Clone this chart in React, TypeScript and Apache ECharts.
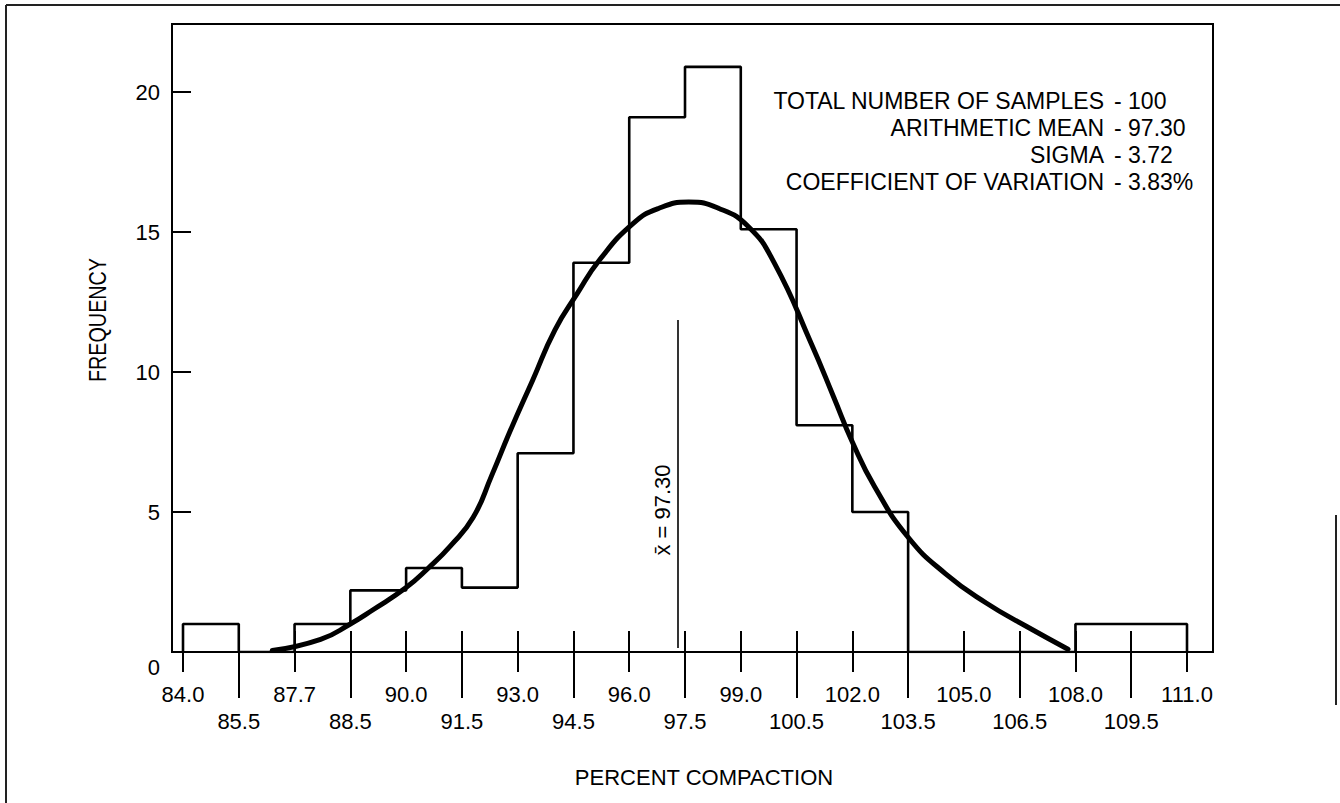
import { useEffect, useRef } from 'react';
import * as echarts from 'echarts';

// Histogram bins of percent compaction (class width 1.5) and their frequencies
const BIN_EDGES = [84.0, 85.5, 87.0, 88.5, 90.0, 91.5, 93.0, 94.5, 96.0, 97.5, 99.0, 100.5, 102.0, 103.5, 105.0, 106.5, 108.0, 109.5, 111.0];
const FREQUENCIES = [1.0, 0, 1.0, 2.2, 3.0, 2.3, 7.1, 13.9, 19.1, 20.9, 15.1, 8.1, 5.0, 0, 0, 0, 1.0, 1.0];

// Tick label rows on the x axis
const UPPER_TICKS = [84, 87, 90, 93, 96, 99, 102, 105, 108, 111];
const UPPER_LABELS = ['84.0', '87.7', '90.0', '93.0', '96.0', '99.0', '102.0', '105.0', '108.0', '111.0'];
const LOWER_TICKS = [85.5, 88.5, 91.5, 94.5, 97.5, 100.5, 103.5, 106.5, 109.5];
const LOWER_LABELS = ['85.5', '88.5', '91.5', '94.5', '97.5', '100.5', '103.5', '106.5', '109.5'];
const Y_TICKS = [0, 5, 10, 15, 20];

// Fitted normal frequency curve
const CURVE_X = [86.4, 87.7, 88.5, 89.1, 90.0, 90.6, 91.2, 91.8, 92.3, 92.8, 93.4, 94.0, 94.6, 95.2, 96.1, 96.8, 97.6, 98.4, 99.2, 99.9, 100.9, 101.5, 102.0, 102.6, 103.5, 104.5, 105.6, 106.7, 107.8];
const CURVE_Y = [0.05, 0.45, 1.0, 1.5, 2.3, 3.0, 3.8, 4.8, 6.3, 7.9, 9.7, 11.5, 12.8, 14.0, 15.3, 15.85, 16.07, 15.85, 15.2, 13.9, 11.0, 9.1, 7.5, 5.9, 4.1, 2.8, 1.75, 0.9, 0.1];

// Arithmetic mean marker
const MEAN = 97.3;
const MEAN_LINE_SPAN = [0.14, 11.86];
const MEAN_LABEL = 'x\u0304 = 97.30';

// Summary statistics
const STAT_NAMES = ['TOTAL NUMBER OF SAMPLES', 'ARITHMETIC MEAN', 'SIGMA', 'COEFFICIENT OF VARIATION'];
const STAT_VALUES = ['100', '97.30', '3.72', '3.83%'];

const FONT = "'Liberation Sans', Arial, Helvetica, sans-serif";
const INK = '#000';

function staticGraphics(): any[] {
  const els: any[] = [
    { type: 'line', silent: true, shape: { x1: 6, y1: 5, x2: 6, y2: 803 }, style: { stroke: '#222', lineWidth: 2 } },
    { type: 'line', silent: true, shape: { x1: 6, y1: 5, x2: 1340, y2: 5 }, style: { stroke: '#222', lineWidth: 2 } },
    { type: 'line', silent: true, shape: { x1: 1336, y1: 515, x2: 1336, y2: 705 }, style: { stroke: '#222', lineWidth: 2 } },
    {
      type: 'text', x: 98, y: 320, rotation: Math.PI / 2, scaleX: 0.86,
      style: { text: 'FREQUENCY', font: `23px ${FONT}`, fill: INK, align: 'center', verticalAlign: 'middle' },
    },
    {
      type: 'text', x: 704, y: 777,
      style: { text: 'PERCENT COMPACTION', font: `22px ${FONT}`, fill: INK, align: 'center', verticalAlign: 'middle' },
    },
  ];
  STAT_NAMES.forEach((name, i) => {
    const y = 101 + i * 27;
    els.push({ type: 'text', x: 1104, y, style: { text: name, font: `23px ${FONT}`, fill: INK, align: 'right', verticalAlign: 'middle' } });
    els.push({ type: 'text', x: 1114, y, style: { text: '- ' + STAT_VALUES[i], font: `23px ${FONT}`, fill: INK, align: 'left', verticalAlign: 'middle' } });
  });
  return els;
}

export default function App() {
  const ref = useRef<HTMLDivElement>(null);

  useEffect(() => {
    if (!ref.current) return;
    const chart = echarts.init(ref.current, null, { renderer: 'svg' });

    // Stair-step outline of the histogram
    const stepData: number[][] = [[BIN_EDGES[0], 0]];
    FREQUENCIES.forEach((f, i) => stepData.push([BIN_EDGES[i], f]));
    stepData.push([BIN_EDGES[BIN_EDGES.length - 1], 0]);

    const curveData = CURVE_X.map((x, i) => [x, CURVE_Y[i]]);

    const xMin = 83.704;
    const xMax = 111.699;
    const labelStyle = { fontFamily: FONT, fontSize: 22, color: INK };

    const option: any = {
      animation: false,
      backgroundColor: '#fff',
      grid: {
        left: 172, top: 24, width: 1041, height: 628,
        show: true, borderColor: INK, borderWidth: 2, backgroundColor: 'transparent',
      },
      xAxis: [
        {
          type: 'value', min: xMin, max: xMax, position: 'bottom',
          axisLine: { show: true, onZero: false, lineStyle: { color: INK, width: 2 } },
          axisTick: { show: true, inside: true, length: 21, customValues: BIN_EDGES, lineStyle: { color: INK, width: 2 } },
          axisLabel: {
            ...labelStyle, margin: 31, customValues: UPPER_TICKS,
            formatter: (v: number) => UPPER_LABELS[UPPER_TICKS.indexOf(v)] ?? '',
          },
          splitLine: { show: false },
        },
        {
          type: 'value', min: xMin, max: xMax, position: 'bottom',
          axisLine: { show: false },
          axisTick: { show: true, inside: false, length: 20, customValues: UPPER_TICKS, lineStyle: { color: INK, width: 2 } },
          axisLabel: {
            ...labelStyle, margin: 58, customValues: LOWER_TICKS,
            formatter: (v: number) => LOWER_LABELS[LOWER_TICKS.indexOf(v)] ?? '',
          },
          splitLine: { show: false },
        },
        {
          type: 'value', min: xMin, max: xMax, position: 'bottom',
          axisLine: { show: false },
          axisTick: { show: true, inside: false, length: 46, customValues: LOWER_TICKS, lineStyle: { color: INK, width: 2 } },
          axisLabel: { show: false },
          splitLine: { show: false },
        },
      ],
      yAxis: {
        type: 'value', min: 0, max: 22.43,
        axisLine: { show: true, onZero: false, lineStyle: { color: INK, width: 2 } },
        axisTick: { show: true, inside: true, length: 19, customValues: Y_TICKS, lineStyle: { color: INK, width: 2 } },
        axisLabel: {
          ...labelStyle, margin: 12, customValues: Y_TICKS,
          formatter: (v: number) => (v === 0 ? '{z|0}' : String(v)),
          rich: { z: { fontFamily: FONT, fontSize: 22, color: INK, padding: [30, 0, 0, 0] } },
        },
        splitLine: { show: false },
      },
      series: [
        {
          name: 'Frequency',
          type: 'line',
          step: 'end',
          data: stepData,
          symbol: 'none',
          lineStyle: { color: INK, width: 2.6 },
          z: 3,
          markLine: {
            silent: true,
            symbol: ['none', 'none'],
            label: { show: false },
            lineStyle: { color: INK, width: 1.6, type: 'solid' },
            data: [[{ coord: [MEAN, MEAN_LINE_SPAN[0]] }, { coord: [MEAN, MEAN_LINE_SPAN[1]] }]],
          },
        },
        {
          name: 'Normal curve',
          type: 'line',
          data: curveData,
          smooth: 0.5,
          symbol: 'none',
          lineStyle: { color: INK, width: 5, cap: 'round', join: 'round' },
          z: 4,
        },
      ],
      graphic: staticGraphics(),
    };

    chart.setOption(option);

    // Mean label set beside the mean line, placed through the axis scales
    const p = chart.convertToPixel({ xAxisIndex: 0, yAxisIndex: 0 }, [MEAN, 5.07]) as number[];
    chart.setOption({
      graphic: [
        ...staticGraphics(),
        {
          type: 'text', x: p[0] - 15, y: p[1], rotation: Math.PI / 2,
          style: { text: MEAN_LABEL, font: `22px ${FONT}`, fill: INK, align: 'center', verticalAlign: 'middle' },
        },
      ],
    });

    return () => chart.dispose();
  }, []);

  return (
    <div
      ref={ref}
      style={{ position: 'fixed', left: 0, top: 0, width: 1340, height: 803, background: '#fff' }}
    />
  );
}
